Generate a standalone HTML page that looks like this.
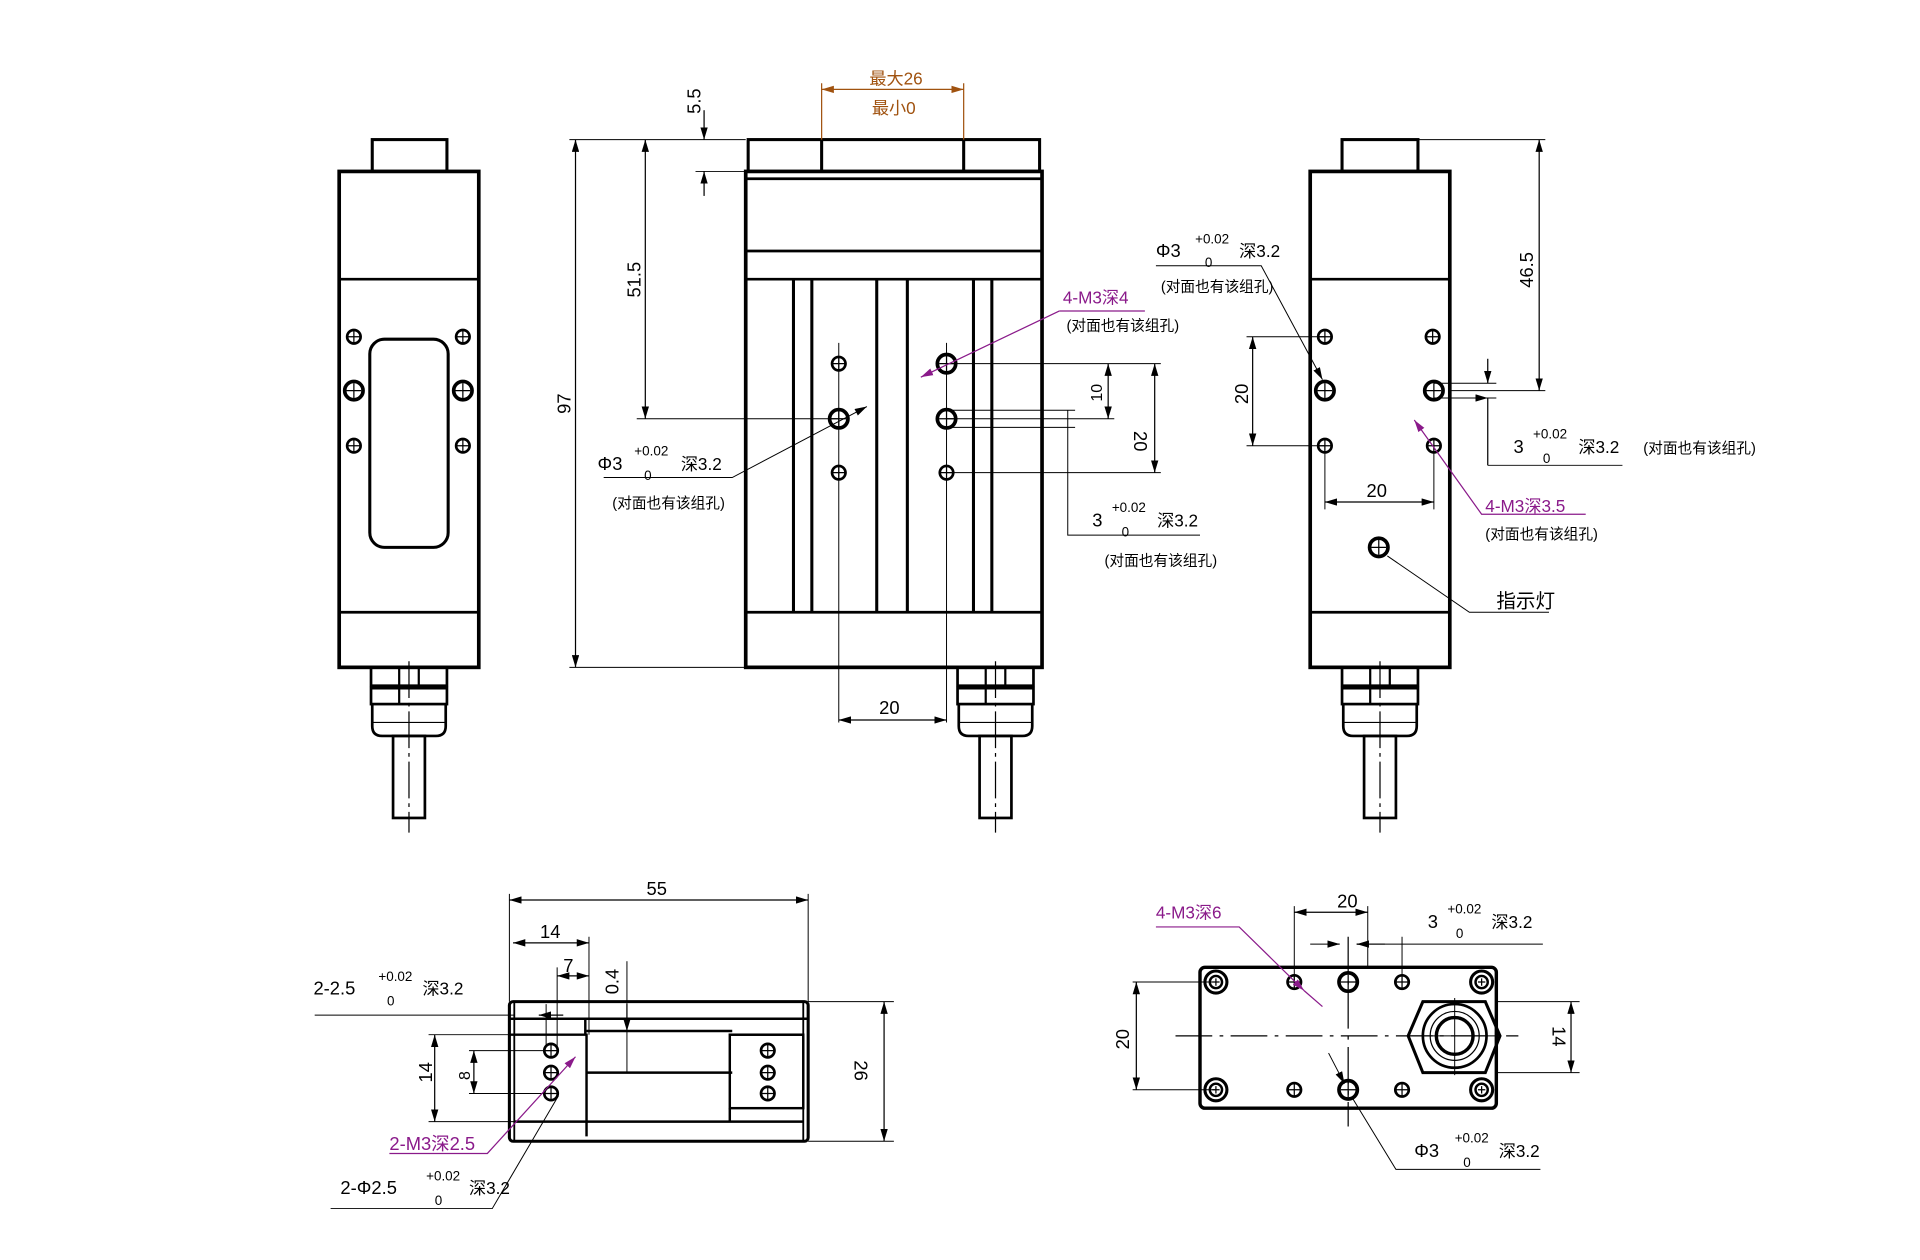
<!DOCTYPE html>
<html><head><meta charset="utf-8"><style>
html,body{margin:0;padding:0;background:#fff;}
svg{display:block;}
text{font-family:"Liberation Sans","Noto Sans CJK SC",sans-serif;fill:#000;}
.p{fill:#8a1a8a;}
.o{fill:#a0520f;}
</style></head><body>
<svg width="1920" height="1260" viewBox="0 0 1568 1029" preserveAspectRatio="none" xmlns="http://www.w3.org/2000/svg">
<defs>
<marker id="a" viewBox="0 0 10 6" refX="10" refY="3" markerWidth="10" markerHeight="6" orient="auto-start-reverse" markerUnits="userSpaceOnUse"><path d="M0,0L10,3L0,6z" fill="#000"/></marker>
<marker id="ap" viewBox="0 0 10 6" refX="10" refY="3" markerWidth="10" markerHeight="6" orient="auto-start-reverse" markerUnits="userSpaceOnUse"><path d="M0,0L10,3L0,6z" fill="#8a1a8a"/></marker>
<marker id="ao" viewBox="0 0 10 6" refX="10" refY="3" markerWidth="10" markerHeight="6" orient="auto-start-reverse" markerUnits="userSpaceOnUse"><path d="M0,0L10,3L0,6z" fill="#a0520f"/></marker>
<g id="h"><circle r="5.5" fill="none" stroke="#000" stroke-width="2.2"/><path d="M-5.5,0H5.5M0,-5.5V5.5" stroke="#000" stroke-width="1"/></g>
<g id="H"><circle r="7.5" fill="none" stroke="#000" stroke-width="3"/><path d="M-6,0H6M0,-6V6" stroke="#000" stroke-width="1"/></g>
<g id="C"><circle r="9" fill="none" stroke="#000" stroke-width="2.5"/><circle r="5" fill="none" stroke="#000" stroke-width="2"/><path d="M-3,0H3M0,-3V3" stroke="#000" stroke-width="1"/></g>
<g id="conn">
<rect x="-31" y="0" width="62" height="15" fill="none" stroke="#000" stroke-width="2.2"/>
<path d="M-8,0V15M8,0V15" stroke="#000" stroke-width="1.8"/>
<rect x="-31" y="17" width="62" height="13" fill="none" stroke="#000" stroke-width="2.2"/>
<path d="M-8,17V30" stroke="#000" stroke-width="1.8"/>
<path d="M-30,30V48Q-30,56 -22,56H22Q30,56 30,48V30" fill="none" stroke="#000" stroke-width="2.2"/>
<path d="M-30,45H30" stroke="#000" stroke-width="1"/>
<rect x="-13" y="56" width="26" height="67" fill="none" stroke="#000" stroke-width="2.2"/>
<path d="M0,-5V135" stroke="#000" stroke-width="1" stroke-dasharray="30,4,3,4"/>
</g>
</defs>
<g fill="none" stroke="#000" stroke-width="1">

<!-- LEFT VIEW -->
<rect x="304" y="114" width="61" height="26" stroke-width="2.5"/>
<rect x="277" y="140" width="114" height="405" stroke-width="3"/>
<path d="M277,228H391M277,500H391" stroke-width="2.2"/>
<rect x="302" y="277" width="64" height="170" rx="12" stroke-width="2.5"/>
<use href="#h" x="289" y="275"/><use href="#h" x="378" y="275"/>
<use href="#H" x="289" y="319"/><use href="#H" x="378" y="319"/>
<use href="#h" x="289" y="364"/><use href="#h" x="378" y="364"/>
<use href="#conn" x="334" y="545"/>

<!-- MIDDLE VIEW -->
<rect x="611" y="114" width="238" height="26" stroke-width="2.5"/>
<rect x="609" y="140" width="242" height="405" stroke-width="3"/>
<path d="M609,146H851M609,205H851M609,228H851M609,500H851" stroke-width="2.2"/>
<path d="M648,228V500M663,228V500M716,228V500M741,228V500M795,228V500M810,228V500" stroke-width="2.5"/>
<path d="M671,114V140M787,114V140" stroke-width="2.5"/>
<path d="M685,280V590M773,280V590" stroke-width="0.8"/>
<use href="#h" x="685" y="297"/><use href="#H" x="685" y="342"/><use href="#h" x="685" y="386"/>
<use href="#H" x="773" y="297"/><use href="#H" x="773" y="342"/><use href="#h" x="773" y="386"/>
<use href="#conn" x="813" y="545"/>
<!-- dims middle -->
<path d="M465,114H609M520,114H609M465,545H609" stroke-width="0.8"/>
<path d="M470,114V545" marker-start="url(#a)" marker-end="url(#a)"/>
<path d="M527,114V342" marker-start="url(#a)" marker-end="url(#a)"/>
<path d="M520,342H685" stroke-width="0.8"/>
<path d="M568,140H609" stroke-width="0.8"/>
<path d="M575,90V114" marker-end="url(#a)"/><path d="M575,160V140" marker-end="url(#a)"/>
<path d="M671,68V114M787,68V114" stroke="#a0520f"/>
<path d="M671,73H787" stroke="#a0520f" marker-start="url(#ao)" marker-end="url(#ao)"/>
<path d="M685,588H773" marker-start="url(#a)" marker-end="url(#a)"/>
<path d="M773,297H910M773,342H910M773,386H948M773,297H948" stroke-width="0.8"/>
<path d="M905,297V342" marker-start="url(#a)" marker-end="url(#a)"/>
<path d="M943,297V386" marker-start="url(#a)" marker-end="url(#a)"/>
<path d="M773,335H878M773,349H878" stroke-width="0.8"/>
<path d="M872,335V437H980" stroke-width="0.8"/>
<path d="M493,390H598L708,332" stroke-width="0.8" marker-end="url(#a)"/>
<path d="M865,254L752,308" stroke="#8a1a8a" marker-end="url(#ap)"/>
<path d="M865,254H935" stroke="#8a1a8a"/>

<!-- RIGHT VIEW -->
<rect x="1096" y="114" width="62" height="26" stroke-width="2.5"/>
<rect x="1070" y="140" width="114" height="405" stroke-width="3"/>
<path d="M1070,228H1184M1070,500H1184" stroke-width="2.2"/>
<use href="#h" x="1082" y="275"/><use href="#h" x="1170" y="275"/>
<use href="#H" x="1082" y="319"/><use href="#H" x="1171" y="319"/>
<use href="#h" x="1082" y="364"/><use href="#h" x="1171" y="364"/>
<use href="#H" x="1126" y="447"/>
<use href="#conn" x="1127" y="545"/>
<path d="M1158,114H1262M1184,319H1262" stroke-width="0.8"/>
<path d="M1257,114V319" marker-start="url(#a)" marker-end="url(#a)"/>
<path d="M1018,275H1082M1018,364H1082" stroke-width="0.8"/>
<path d="M1023,275V364" marker-start="url(#a)" marker-end="url(#a)"/>
<path d="M1082,364V416M1171,364V416" stroke-width="0.8"/>
<path d="M1082,410H1171" marker-start="url(#a)" marker-end="url(#a)"/>
<path d="M1171,313H1222M1171,325H1222" stroke-width="0.8"/>
<path d="M1215,293V313" marker-end="url(#a)"/><path d="M1215,380V325H1215" marker-end="url(#a)"/>
<path d="M1215,380H1325" stroke-width="0.8"/>
<path d="M944,217H1030L1080,310" stroke-width="0.8" marker-end="url(#a)"/>
<path d="M1155,343L1210,420H1295" stroke="#8a1a8a" marker-start="url(#ap)"/>
<path d="M1133,454L1200,500H1265" stroke-width="0.8"/>

<!-- BOTTOM LEFT -->
<rect x="416" y="818" width="244" height="114" rx="3" stroke-width="2.5"/>
<path d="M420,818V932M656,818V932" stroke-width="1.5"/>
<path d="M416,832H478V845M478,832H660M416,845H479V928" stroke-width="2"/>
<path d="M479,842H598M479,876H598M596,845H656" stroke-width="2"/>
<rect x="596" y="845" width="60" height="60" stroke-width="2"/>
<path d="M420,916H596V905M420,916H656" stroke-width="2"/>
<use href="#h" x="450" y="858"/><use href="#h" x="450" y="876"/><use href="#h" x="450" y="893"/>
<use href="#h" x="627" y="858"/><use href="#h" x="627" y="876"/><use href="#h" x="627" y="893"/>
<path d="M416,730V818M660,730V818" stroke-width="0.8"/>
<path d="M416,735H660" marker-start="url(#a)" marker-end="url(#a)"/>
<path d="M481,765V845M455,790V855M446,820V855" stroke-width="0.8"/>
<path d="M419,770H481" marker-start="url(#a)" marker-end="url(#a)"/>
<path d="M455,797H481" marker-start="url(#a)" marker-end="url(#a)"/>
<path d="M512,785V876" stroke-width="0.8"/>
<path d="M512,820V842" marker-end="url(#a)"/>
<path d="M660,818H730M660,932H730" stroke-width="0.8"/>
<path d="M722,818V932" marker-start="url(#a)" marker-end="url(#a)"/>
<path d="M350,845H479M350,916H420" stroke-width="0.8"/>
<path d="M355,845V916" marker-start="url(#a)" marker-end="url(#a)"/>
<path d="M383,858H450M383,893H450" stroke-width="0.8"/>
<path d="M387,858V893" marker-start="url(#a)" marker-end="url(#a)"/>
<path d="M257,829H420" stroke-width="0.8"/>
<path d="M440,829H460" marker-start="url(#a)"/>
<path d="M318,942H398L470,863" stroke="#8a1a8a" marker-end="url(#ap)"/>
<path d="M270,987H402L456,895" stroke-width="0.8"/>

<!-- BOTTOM RIGHT -->
<rect x="980" y="790" width="242" height="115" rx="4" stroke-width="2.8"/>
<use href="#C" x="993" y="802"/><use href="#C" x="1210" y="802"/>
<use href="#C" x="993" y="890"/><use href="#C" x="1210" y="890"/>
<use href="#h" x="1057" y="802"/><use href="#H" x="1101" y="802"/><use href="#h" x="1145" y="802"/>
<use href="#h" x="1057" y="890"/><use href="#H" x="1101" y="890"/><use href="#h" x="1145" y="890"/>
<path d="M1162,818H1213L1225,846L1213,876H1162L1150,846Z" stroke-width="2.5"/>
<circle cx="1188" cy="846" r="26" stroke-width="2.2"/>
<circle cx="1188" cy="846" r="20"/>
<circle cx="1188" cy="846" r="15" stroke-width="2.8"/>
<path d="M1188,815V878M1150,846H1226" stroke-width="0.8"/>
<path d="M960,846H1240" stroke-width="1" stroke-dasharray="30,6,3,6"/>
<path d="M1101,765V920" stroke-width="1" stroke-dasharray="30,6,3,6"/>
<path d="M925,802H993M925,890H993" stroke-width="0.8"/>
<path d="M928,802V890" marker-start="url(#a)" marker-end="url(#a)"/>
<path d="M1222,818H1290M1222,876H1290" stroke-width="0.8"/>
<path d="M1283,818V876" marker-start="url(#a)" marker-end="url(#a)"/>
<path d="M1057,740V802M1117,740V790M1145,765V802" stroke-width="0.8"/>
<path d="M1057,745H1117" marker-start="url(#a)" marker-end="url(#a)"/>
<path d="M1070,771H1094M1131,771H1108" stroke-width="0.8"/>
<path d="M1093,771H1094" marker-end="url(#a)"/><path d="M1110,771H1108" marker-end="url(#a)"/>
<path d="M1108,771H1260" stroke-width="0.8"/>
<path d="M944,757H1012L1065,809" stroke="#8a1a8a" marker-end="url(#ap)"/>
<path d="M1065,809L1080,822" stroke="#8a1a8a"/>
<path d="M1085,860L1098,885" stroke-width="0.8" marker-end="url(#a)"/>
<path d="M1104,896L1140,955H1258" stroke-width="0.8"/>
</g>

<!-- TEXT -->
<g font-size="15">
<text class="o" x="710" y="69" font-size="14">最大26</text>
<text class="o" x="712" y="93" font-size="14">最小0</text>
<text x="572" y="93" transform="rotate(-90 572 93)" text-anchor="start">5.5</text>
<text x="523" y="243" transform="rotate(-90 523 243)">51.5</text>
<text x="466" y="338" transform="rotate(-90 466 338)">97</text>
<text x="718" y="583">20</text>
<text x="900" y="328" transform="rotate(-90 900 328)" font-size="13">10</text>
<text x="926" y="352" transform="rotate(90 926 352)">20</text>
<text x="488" y="384">Φ3</text><text x="518" y="372" font-size="11">+0.02</text><text x="526" y="392" font-size="11">0</text><text x="556" y="384" font-size="14">深3.2</text>
<text x="500" y="415" font-size="12">(对面也有该组孔)</text>
<text class="p" x="868" y="248" font-size="14">4-M3深4</text>
<text x="871" y="270" font-size="12">(对面也有该组孔)</text>
<text x="892" y="430">3</text><text x="908" y="418" font-size="11">+0.02</text><text x="916" y="438" font-size="11">0</text><text x="945" y="430" font-size="14">深3.2</text>
<text x="902" y="462" font-size="12">(对面也有该组孔)</text>
<text x="944" y="210">Φ3</text><text x="976" y="199" font-size="11">+0.02</text><text x="984" y="218" font-size="11">0</text><text x="1012" y="210" font-size="14">深3.2</text>
<text x="948" y="238" font-size="12">(对面也有该组孔)</text>
<text x="1252" y="235" transform="rotate(-90 1252 235)">46.5</text>
<text x="1019" y="330" transform="rotate(-90 1019 330)">20</text>
<text x="1116" y="406">20</text>
<text x="1236" y="370">3</text><text x="1252" y="358" font-size="11">+0.02</text><text x="1260" y="378" font-size="11">0</text><text x="1289" y="370" font-size="14">深3.2</text>
<text x="1342" y="370" font-size="12">(对面也有该组孔)</text>
<text class="p" x="1213" y="418" font-size="14">4-M3深3.5</text>
<text x="1213" y="440" font-size="12">(对面也有该组孔)</text>
<text x="1222" y="496" font-size="16">指示灯</text>
<text x="528" y="731">55</text>
<text x="441" y="766">14</text>
<text x="460" y="794">7</text>
<text x="505" y="812" transform="rotate(-90 505 812)">0.4</text>
<text x="353" y="884" transform="rotate(-90 353 884)">14</text>
<text x="384" y="882" transform="rotate(-90 384 882)" font-size="13">8</text>
<text x="718" y="886" transform="rotate(90 718 866)">26</text>
<text x="256" y="812">2-2.5</text><text x="309" y="801" font-size="11">+0.02</text><text x="316" y="821" font-size="11">0</text><text x="345" y="812" font-size="14">深3.2</text>
<text class="p" x="318" y="939" font-size="15">2-M3深2.5</text>
<text x="278" y="975">2-Φ2.5</text><text x="348" y="964" font-size="11">+0.02</text><text x="355" y="984" font-size="11">0</text><text x="383" y="975" font-size="14">深3.2</text>
<text class="p" x="944" y="750" font-size="14">4-M3深6</text>
<text x="1092" y="741">20</text>
<text x="1166" y="758">3</text><text x="1182" y="746" font-size="11">+0.02</text><text x="1189" y="766" font-size="11">0</text><text x="1218" y="758" font-size="14">深3.2</text>
<text x="922" y="857" transform="rotate(-90 922 857)">20</text>
<text x="1268" y="838" transform="rotate(90 1268 838)">14</text>
<text x="1155" y="945">Φ3</text><text x="1188" y="933" font-size="11">+0.02</text><text x="1195" y="953" font-size="11">0</text><text x="1224" y="945" font-size="14">深3.2</text>
</g>
</svg>
</body></html>
